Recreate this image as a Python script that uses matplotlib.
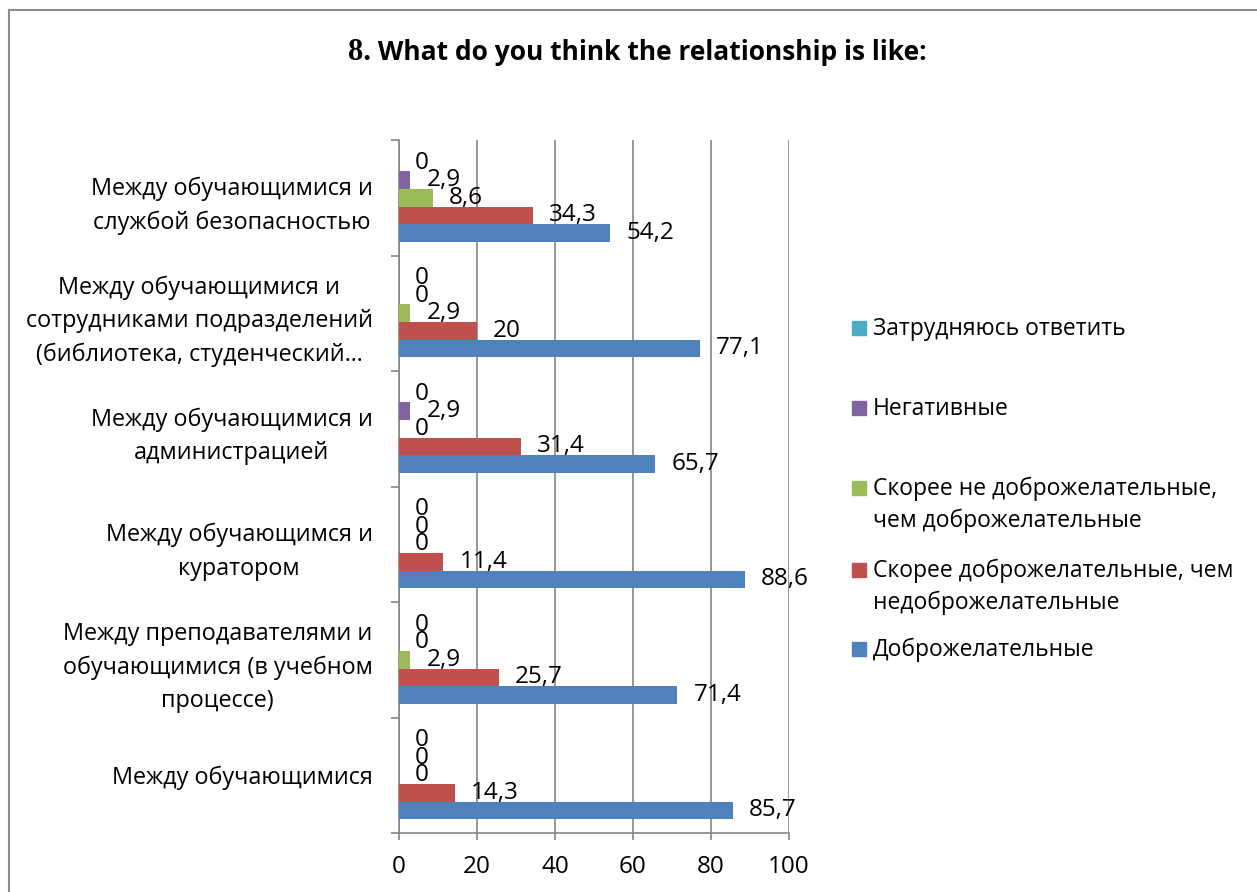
import numpy as np
import matplotlib
matplotlib.use("Agg")
import matplotlib.pyplot as plt
from matplotlib.patches import Rectangle
from matplotlib.lines import Line2D

plt.rcParams['font.family'] = ['Open Sans', 'DejaVu Sans']

# категории снизу вверх
categories = [
    "Между обучающимися",
    "Между преподавателями и\nобучающимися (в учебном\nпроцессе)",
    "Между обучающимся и\nкуратором",
    "Между обучающимися и\nадминистрацией",
    "Между обучающимися и\nсотрудниками подразделений\n(библиотека, студенческий…",
    "Между обучающимися и\nслужбой безопасностью",
]
series_names = [
    "Доброжелательные",
    "Скорее доброжелательные, чем\nнедоброжелательные",
    "Скорее не доброжелательные,\nчем доброжелательные",
    "Негативные",
    "Затрудняюсь ответить",
]
dobro = [85.7, 71.4, 88.6, 65.7, 77.1, 54.2]
skoree_dobro = [14.3, 25.7, 11.4, 31.4, 20, 34.3]
skoree_ne = [0, 2.9, 0, 0, 2.9, 8.6]
negativ = [0, 0, 0, 2.9, 0, 2.9]
zatrud = [0, 0, 0, 0, 0, 0]
values = [dobro, skoree_dobro, skoree_ne, negativ, zatrud]
colors = ['#4F81BD', '#C0504D', '#9BBB59', '#8064A2', '#4BACC6']

W, H = 1257, 892
fig = plt.figure(figsize=(W / 100, H / 100), dpi=100)
ax = fig.add_axes([399 / W, 1 - 833 / H, 390 / W, 693 / H])

h = 0.152
y = np.arange(len(categories))
for j, (vals, col) in enumerate(zip(values, colors)):
    bars = ax.barh(y + (j - 2) * h, vals, height=h, color=col, zorder=3)
    labs = [f"{v:g}".replace('.', ',') for v in vals]
    ax.bar_label(bars, labels=labs, padding=11.5, fontsize=17.5, color='black')

ax.set_xlim(0, 100)
ax.set_ylim(-0.5, len(categories) - 0.5)
ax.set_xticks(np.arange(0, 101, 20))
ax.set_yticks(y)
ax.set_yticklabels(categories, fontsize=16.8, multialignment='center', linespacing=1.52)
ax.set_yticks(np.arange(-0.5, len(categories), 1), minor=True)
ax.tick_params(axis='y', which='major', length=0, pad=19)
ax.tick_params(axis='y', which='minor', length=6, width=1.2, color='#868686')
ax.tick_params(axis='x', length=5, width=1.2, color='#868686', pad=11, labelsize=17.5)
ax.grid(axis='x', color='#868686', linewidth=1.2, zorder=0)
for s in ['top', 'right']:
    ax.spines[s].set_visible(False)
for s in ['left', 'bottom']:
    ax.spines[s].set_color('#868686')
    ax.spines[s].set_linewidth(1.2)

# рамка диаграммы
fig.add_artist(Line2D([9 / W, 9 / W], [0, 1 - 10 / H], color='#8c8c8c', linewidth=1.5))
fig.add_artist(Line2D([9 / W, 1], [1 - 10 / H, 1 - 10 / H], color='#8c8c8c', linewidth=1.5))

# заголовок: "8." с засечками, остальное без
t1 = fig.text(0, 1 - 53 / H, "8.", family='Liberation Serif', fontsize=22,
              fontweight='bold', va='center')
t2 = fig.text(0, 1 - 53 / H, " What do you think the relationship is like:", fontsize=19,
              fontweight='bold', va='center')
r = fig.canvas.get_renderer()
w1 = t1.get_window_extent(r).width
w2 = t2.get_window_extent(r).width
x0 = 637 - (w1 + w2) / 2
t1.set_x(x0 / W)
t2.set_x((x0 + w1) / W)

# легенда
leg_y = [649, 570, 488, 408, 328]
for name, col, yy in zip(series_names, colors, leg_y):
    fig.add_artist(Rectangle((852 / W, 1 - (yy + 7) / H), 14 / W, 14 / H,
                             transform=fig.transFigure, color=col))
    fig.text(873 / W, 1 - (yy - 11) / H, name, fontsize=16.5, va='top',
             linespacing=1.4)

fig.savefig("out.png", dpi=100)
